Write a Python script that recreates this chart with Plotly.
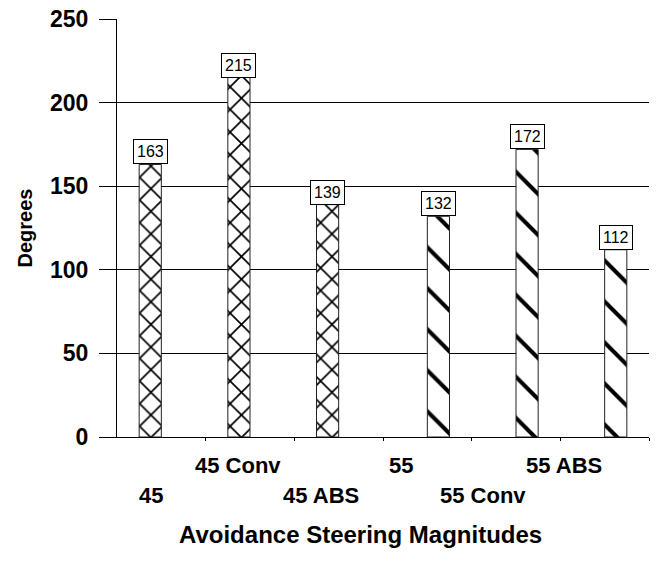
import plotly.graph_objects as go

# Steering angle (degrees) by avoidance steering magnitude
categories = ["45", "45 Conv", "45 ABS", "55", "55 Conv", "55 ABS"]
deg_45 = [163, 215, 139]
deg_55 = [132, 172, 112]

FONT = "Liberation Sans, Arial, sans-serif"

x45 = [0, 1, 2]
x55 = [3, 4, 5]
bar_w = 0.25

fig = go.Figure()
# the 45 series sits just left of each slot centre, the 55 series just right
fig.add_trace(go.Bar(
    x=x45, y=deg_45, name="45", width=bar_w, offset=-bar_w,
    marker=dict(color="white", line=dict(color="#222", width=1),
                pattern=dict(shape="x", fgcolor="black", bgcolor="white",
                             fgopacity=1, size=16, solidity=0.2)),
))
fig.add_trace(go.Bar(
    x=x55, y=deg_55, name="55", width=bar_w, offset=0,
    marker=dict(color="white", line=dict(color="#222", width=1),
                pattern=dict(shape="\\", fgcolor="black", bgcolor="white",
                             fgopacity=1, size=29, solidity=0.14)),
))

# boxed value labels sitting on top of each bar
for xs, vals, off in ((x45, deg_45, -bar_w / 2), (x55, deg_55, bar_w / 2)):
    for xi, v in zip(xs, vals):
        fig.add_annotation(x=xi + off, y=v, text=str(v), showarrow=False,
                           yanchor="bottom", xanchor="center",
                           font=dict(family=FONT, size=16, color="black"),
                           bgcolor="white", bordercolor="black", borderwidth=1,
                           borderpad=3)

# staggered category labels (alternating rows)
label_pos = [0.064, 0.227, 0.383, 0.534, 0.688, 0.840]
for i, (name, px) in enumerate(zip(categories, label_pos)):
    fig.add_annotation(x=px, xref="paper", y=-0.139 if i % 2 == 0 else -0.067,
                       yref="paper", text=f"<b>{name}</b>", showarrow=False,
                       xanchor="center", yanchor="middle",
                       font=dict(family=FONT, size=22, color="black"))

# x axis title
fig.add_annotation(x=0.457, xref="paper", y=-0.234, yref="paper",
                   text="<b>Avoidance Steering Magnitudes</b>", showarrow=False,
                   xanchor="center", yanchor="middle",
                   font=dict(family=FONT, size=24, color="black"))

fig.update_layout(
    width=665, height=562,
    margin=dict(l=117, r=16, t=19, b=125),
    paper_bgcolor="white", plot_bgcolor="white",
    barmode="overlay",
    showlegend=False,
    font=dict(family=FONT, color="black"),
)
fig.update_xaxes(
    range=[-0.5, 5.5], tickvals=[0.5, 1.5, 2.5, 3.5, 4.5, 5.5],
    ticktext=[""] * 6, ticks="outside", ticklen=3, tickcolor="black",
    showgrid=False, showline=True, linecolor="black", linewidth=1,
    zeroline=False, automargin=False,
)
fig.update_yaxes(
    range=[0, 250], tickvals=[0, 50, 100, 150, 200, 250],
    ticktext=[f"<b>{v}</b>" for v in [0, 50, 100, 150, 200, 250]],
    tickfont=dict(family=FONT, size=23, color="black"),
    ticks="outside", ticklen=17, tickcolor="black", ticklabelstandoff=6,
    showgrid=True, gridcolor="black", gridwidth=1,
    showline=True, linecolor="black", linewidth=1, zeroline=False,
    title=dict(text="<b>Degrees</b>", standoff=12,
               font=dict(family=FONT, size=20, color="black")),
    automargin=False,
)

fig.write_html("out.html")
